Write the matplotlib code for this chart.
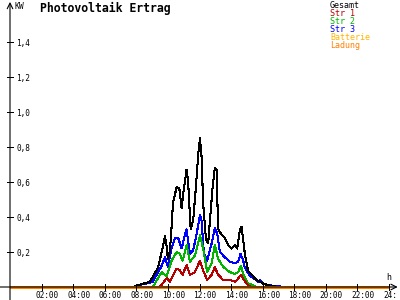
import matplotlib
matplotlib.use('Agg')
import matplotlib.pyplot as plt
import numpy as np

# readings of the day (hours, kW)
t_gesamt = [0, 7.8, 8.1, 8.86, 9.37, 9.68, 9.81, 9.92, 10.0, 10.13, 10.23, 10.32, 10.55,
            10.72, 10.87, 10.97, 11.18, 11.28, 11.44, 11.60, 11.77, 11.92, 12.03, 12.13,
            12.23, 12.41, 12.55, 12.66, 12.83, 12.97, 13.08, 13.18, 13.40, 13.61, 13.82,
            14.03, 14.24, 14.39, 14.56, 14.66, 14.77, 14.87, 15.08, 15.30, 15.61, 16.03,
            16.35, 17.0, 24]
gesamt = [0, 0, 0.01, 0.03, 0.11, 0.23, 0.29, 0.23, 0.16, 0.21, 0.34, 0.48, 0.57,
          0.565, 0.45, 0.535, 0.67, 0.60, 0.33, 0.38, 0.57, 0.76, 0.85, 0.745,
          0.48, 0.27, 0.25, 0.38, 0.57, 0.68, 0.67, 0.33, 0.30, 0.28, 0.24,
          0.22, 0.24, 0.22, 0.33, 0.345, 0.265, 0.19, 0.09, 0.07, 0.04, 0.02,
          0.01, 0, 0]

t_str1 = [0, 9.49, 9.92, 10.13, 10.55, 10.76, 10.93, 11.18, 11.39, 11.71, 12.03, 12.23,
          12.49, 12.77, 12.97, 13.18, 13.50, 13.92, 14.24, 14.39, 14.62, 14.81, 15.08,
          15.3, 24]
str1 = [0, 0, 0.05, 0.03, 0.105, 0.095, 0.07, 0.125, 0.07, 0.085, 0.15, 0.095,
        0.04, 0.07, 0.115, 0.07, 0.04, 0.04, 0.03, 0.04, 0.07, 0.04, 0.01,
        0, 0]

t_str2 = [0, 9.05, 9.37, 9.60, 9.92, 10.23, 10.55, 10.76, 10.93, 11.18, 11.39, 11.71,
          12.03, 12.23, 12.49, 12.77, 12.97, 13.18, 13.50, 13.92, 14.24, 14.45, 14.62,
          14.81, 15.08, 15.40, 15.6, 24]
str2 = [0, 0, 0.05, 0.085, 0.06, 0.15, 0.20, 0.19, 0.15, 0.24, 0.145, 0.18,
        0.295, 0.22, 0.085, 0.135, 0.24, 0.16, 0.115, 0.085, 0.075, 0.085, 0.12,
        0.065, 0.02, 0.01, 0, 0]

t_str3 = [0, 7.8, 8.1, 8.65, 9.05, 9.37, 9.60, 9.81, 10.0, 10.23, 10.44, 10.65, 10.87,
          11.08, 11.18, 11.39, 11.60, 11.82, 12.03, 12.13, 12.28, 12.49, 12.77, 12.97,
          13.12, 13.29, 13.61, 13.92, 14.24, 14.45, 14.60, 14.77, 14.87, 15.19, 15.51,
          15.72, 15.82, 16.03, 16.35, 17.09, 17.2, 24]
str3 = [0, 0, 0.01, 0.02, 0.03, 0.085, 0.12, 0.17, 0.115, 0.22, 0.28, 0.28, 0.22,
        0.30, 0.33, 0.19, 0.21, 0.305, 0.41, 0.38, 0.19, 0.15, 0.25, 0.335,
        0.305, 0.20, 0.17, 0.145, 0.135, 0.145, 0.19, 0.15, 0.11, 0.065, 0.045,
        0.03, 0.04, 0.02, 0.01, 0.005, 0, 0]

t_day = [0, 24]
batterie = [0, 0]
ladung = [0, 0]

y_ticks = [0.2, 0.4, 0.6, 0.8, 1.0, 1.2, 1.4]
x_ticks = [2, 4, 6, 8, 10, 12, 14, 16, 18, 20, 22, 24]
x_labels = ['02:00', '04:00', '06:00', '08:00', '10:00', '12:00', '14:00',
            '16:00', '18:00', '20:00', '22:00', '24:']

series = [('Gesamt', '#000000'), ('Str 1', '#b40000'), ('Str 2', '#00b400'),
          ('Str 3', '#0000ff'), ('Batterie', '#ffb400'), ('Ladung', '#ff8000')]

mono = 'DejaVu Sans Mono'
LW = 0.75

fig = plt.figure(figsize=(4, 3), dpi=100)
# axes: x 0..24 h -> px 10..389, y 0..1.6 -> px 287..7
ax = fig.add_axes([10 / 400, 13 / 300, 379 / 400, 280 / 300])
ax.set_xlim(0, 24)
ax.set_ylim(0, 1.6)
ax.axis('off')

ax.plot(t_str3, str3, color=series[3][1], lw=LW, antialiased=False)
ax.plot(t_str2, str2, color=series[2][1], lw=LW, antialiased=False)
ax.plot(t_str1, str1, color=series[1][1], lw=LW, antialiased=False)
ax.plot(t_gesamt, gesamt, color=series[0][1], lw=LW, antialiased=False)

# axis lines with arrows
ax.annotate('', xy=(24.55, 0), xytext=(-0.65, 0), xycoords='data',
            arrowprops=dict(arrowstyle='->', color='black', lw=0.8,
                            shrinkA=0, shrinkB=0), annotation_clip=False)
ax.annotate('', xy=(0, 1.629), xytext=(0, -0.075), xycoords='data',
            arrowprops=dict(arrowstyle='->', color='black', lw=0.8,
                            shrinkA=0, shrinkB=0), annotation_clip=False)

ax.plot(t_day, batterie, color=series[4][1], lw=2.0, antialiased=False,
        solid_capstyle='butt', clip_on=False)
ax.plot(t_day, ladung, color=series[5][1], lw=2.0, antialiased=False,
        solid_capstyle='butt', clip_on=False)

# tick crosses and labels
for v in y_ticks:
    ax.plot([-0.19, 0.19], [v, v], color='black', lw=0.5, antialiased=False,
            clip_on=False)
    ax.text(0.38, v - 0.009, '{:.1f}'.format(v).replace('.', ','), fontsize=5.6,
            family=mono, va='center', ha='left')
for v, lab in zip(x_ticks, x_labels):
    ax.plot([v, v], [-0.017, 0.017], color='black', lw=0.5, antialiased=False,
            clip_on=False)
    # labels start a little left of the tick
    ax.text(v - 0.38, -0.022, lab, fontsize=5.6, family=mono, va='top',
            ha='left')

fig.text(14 / 400, 1 - 2 / 300, 'KW', fontsize=5.8, family=mono, va='top', ha='left')
fig.text(386 / 400, 1 - 273 / 300, 'h', fontsize=6, family=mono, va='top', ha='left')
fig.text(40 / 400, 1 - 2 / 300, 'Photovoltaik Ertrag', fontsize=8.3, family=mono,
         fontweight='bold', va='top', ha='left')

for i, (name, col) in enumerate(series):
    fig.text(330 / 400, 1 - (0.5 + 8 * i) / 300, name, fontsize=6, family=mono,
             color=col, va='top', ha='left')

fig.savefig('out.png', dpi=100)
